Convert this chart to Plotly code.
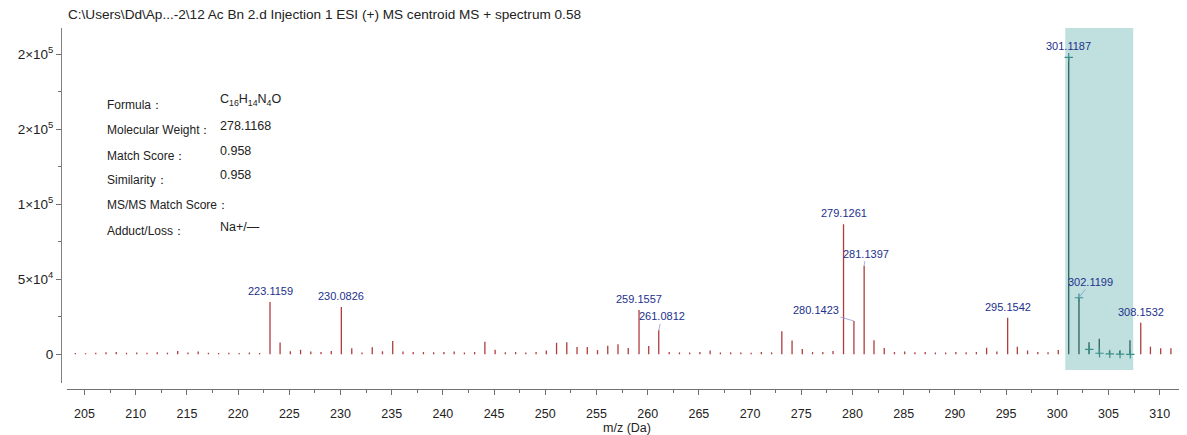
import plotly.graph_objects as go

# ---------------- data ----------------
mz = [204.1, 205.1, 206.1, 207.1, 208.1, 209.1, 210.1, 211.1, 212.1, 213.1,
      214.1, 215.1, 216.1, 217.1, 218.1, 219.1, 220.1, 221.1, 222.1, 223.1159,
      224.1, 225.1, 226.1, 227.1, 228.1, 229.1, 230.0826, 231.1, 232.1, 233.1,
      234.1, 235.1, 236.1, 237.1, 238.1, 239.1, 240.1, 241.1, 242.1, 243.1,
      244.1, 245.1, 246.1, 247.1, 248.1, 249.1, 250.1, 251.1, 252.1, 253.1,
      254.1, 255.1, 256.1, 257.1, 258.1, 259.1557, 260.1, 261.0812, 262.1, 263.1,
      264.1, 265.1, 266.1, 267.1, 268.1, 269.1, 270.1, 271.1, 272.1, 273.1,
      274.1, 275.1, 276.1, 277.1, 278.1, 279.1261, 280.1423, 281.1397, 282.1, 283.1,
      284.1, 285.1, 286.1, 287.1, 288.1, 289.1, 290.1, 291.1, 292.1, 293.1,
      294.1, 295.1542, 296.1, 297.1, 298.1, 299.1, 300.1, 301.1187, 302.1199, 303.1,
      304.1, 305.1, 306.1, 307.1, 308.1532, 309.1, 310.1, 311.1, 312.1]
intensity = [800, 700, 1000, 1300, 1500, 1000, 1200, 1000, 1300, 1100,
             2200, 1200, 1800, 1000, 900, 1000, 800, 1200, 900, 34900,
             7800, 2000, 3000, 1800, 1500, 2200, 31500, 4000, 1200, 4700,
             2000, 8800, 1800, 1500, 1500, 1300, 1500, 1800, 1200, 1500,
             8300, 3000, 1300, 1500, 1200, 1500, 2600, 7700, 8000, 4800,
             4800, 2800, 5700, 6700, 4200, 29500, 5500, 16000, 1500, 1300,
             1200, 1500, 2500, 1200, 1300, 1200, 1000, 1500, 1300, 15400,
             9200, 3500, 1500, 1500, 2200, 86700, 22200, 59100, 9400, 4200,
             1500, 1800, 1300, 1500, 1200, 1200, 1500, 1300, 1500, 4400,
             1800, 24400, 5000, 2500, 1500, 1300, 2900, 198000, 37700, 8000,
             10300, 2200, 2200, 9400, 21000, 5100, 4000, 4000, 1500]

label_mz = [223.1159, 230.0826, 259.1557, 261.0812, 279.1261, 280.1423,
            281.1397, 295.1542, 301.1187, 302.1199, 308.1532]

iso_mz = [301.1187, 302.1220, 303.1250, 304.1275, 305.1300, 306.1320, 307.1340]
iso_int = [198000, 37700, 3300, 700, 300, 100, 0]

window = [300.78, 307.42]

title_text = r"C:\Users\Dd\Ap...-2\12 Ac Bn 2.d Injection 1 ESI (+) MS centroid MS + spectrum 0.58"
info_labels = ["Formula：", "Molecular Weight：", "Match Score：", "Similarity：",
               "MS/MS Match Score：", "Adduct/Loss："]
info_values = ["C<sub>16</sub>H<sub>14</sub>N<sub>4</sub>O", "278.1168", "0.958", "0.958", "", "Na+/—"]

ytick_vals = [0, 50000, 100000, 150000, 200000]
ytick_text = ["0", "5×10<sup>4</sup>", "1×10<sup>5</sup>", "2×10<sup>5</sup>", "2×10<sup>5</sup>"]

# ---------------- figure ----------------
OFF = 8  # page body margin
W, H = 1187 - OFF, 435 - OFF
ML, MR, MT, MB = 61 - OFF, 0, 28 - OFF, 46
PW, PH = W - ML - MR, H - MT - MB
YMIN, YMAX = -19133, 217533

def py(p):  # screen pixel y -> paper
    return (H - MB - (p - OFF)) / PH

def px(p):  # screen pixel x -> paper
    return (p - OFF - ML) / PW

FONT = "Liberation Sans, Arial, sans-serif"
RED = "#b03c3c"
TEAL_PEAK = "#2f5f5c"

fig = go.Figure()

fig.add_shape(type="rect", xref="x", yref="y", x0=window[0], x1=window[1],
              y0=-10500, y1=YMAX, fillcolor="#c0e0df", line_width=0, layer="below")

def segs(sel):
    xs, ys = [], []
    for m, h in zip(mz, intensity):
        if sel(m):
            xs += [m, m, None]
            ys += [0, h, None]
    return xs, ys

xr, yr = segs(lambda m: not (window[0] <= m <= window[1]))
xt, yt = segs(lambda m: window[0] <= m <= window[1])
fig.add_trace(go.Scatter(x=xr, y=yr, mode="lines", line=dict(color=RED, width=1.3),
                         hoverinfo="skip", showlegend=False))
fig.add_trace(go.Scatter(x=xt, y=yt, mode="lines", line=dict(color=TEAL_PEAK, width=1.3),
                         hoverinfo="skip", showlegend=False))
fig.add_trace(go.Scatter(x=iso_mz, y=iso_int, mode="markers",
                         marker=dict(symbol="cross-thin", size=6,
                                     line=dict(color="#3a8f8a", width=1.2)),
                         hoverinfo="skip", showlegend=False))

LABEL_COLOR = "#22308c"
offsets = {261.0812: (3, -14), 280.1423: (-38, -11), 281.1397: (2, -12), 302.1199: (12, -16)}
for m in label_mz:
    h = intensity[mz.index(m)]
    txt = f"{m:.4f}"
    if m in offsets:
        ax, ay = offsets[m]
        fig.add_annotation(x=m, y=h, text=txt, showarrow=True, ax=ax, ay=ay,
                           arrowhead=0, arrowwidth=0.8, arrowcolor="#8c9ad8",
                           font=dict(family=FONT, size=11, color=LABEL_COLOR))
    else:
        fig.add_annotation(x=m, y=h, text=txt, showarrow=False, yanchor="bottom", yshift=3,
                           font=dict(family=FONT, size=11, color=LABEL_COLOR))

fig.add_annotation(xref="paper", yref="paper", x=px(66), y=py(15), xanchor="left",
                   yanchor="middle", text=title_text, showarrow=False,
                   font=dict(family=FONT, size=13.6, color="#222222"))

label_y = [105, 130, 156, 180, 205, 231]
value_y = [100, 126, 151, 175, None, 227]
for t, yy in zip(info_labels, label_y):
    fig.add_annotation(xref="paper", yref="paper", x=px(105), y=py(yy), xanchor="left",
                       yanchor="middle", text=t, showarrow=False,
                       font=dict(family=FONT, size=12, color="#222222"))
for t, yy in zip(info_values, value_y):
    if t and yy is not None:
        fig.add_annotation(xref="paper", yref="paper", x=px(218), y=py(yy), xanchor="left",
                           yanchor="middle", text=t, showarrow=False,
                           font=dict(family=FONT, size=12.5, color="#222222"))

fig.update_layout(
    width=W, height=H,
    margin=dict(l=ML, r=MR, t=MT, b=MB, autoexpand=False),
    paper_bgcolor="white", plot_bgcolor="white",
    showlegend=False,
    xaxis=dict(domain=[px(67), 1], anchor="free", position=0,
               range=[203.29, 312.67], showgrid=False, zeroline=False,
               showline=True, linecolor="#707070", linewidth=1,
               ticks="outside", ticklen=5, tickcolor="#707070",
               tick0=205, dtick=5, ticklabelstandoff=8,
               minor=dict(ticks="outside", ticklen=3, tick0=202.5, dtick=2.5, tickcolor="#707070"),
               tickfont=dict(family=FONT, size=12.5, color="#222222"),
               title=dict(text="m/z (Da)", standoff=2,
                          font=dict(family=FONT, size=12.5, color="#222222"))),
    yaxis=dict(domain=[py(383), 1], anchor="free", position=0,
               range=[YMIN, YMAX], showgrid=False, zeroline=False,
               showline=True, linecolor="#808080", linewidth=1,
               ticks="outside", ticklen=5, tickcolor="#707070",
               tickmode="array", tickvals=ytick_vals, ticktext=ytick_text,
               minor=dict(ticks="outside", ticklen=3, tick0=0, dtick=25000, tickcolor="#707070"),
               tickfont=dict(family=FONT, size=13.5, color="#222222")),
)

fig.write_html("out.html")
